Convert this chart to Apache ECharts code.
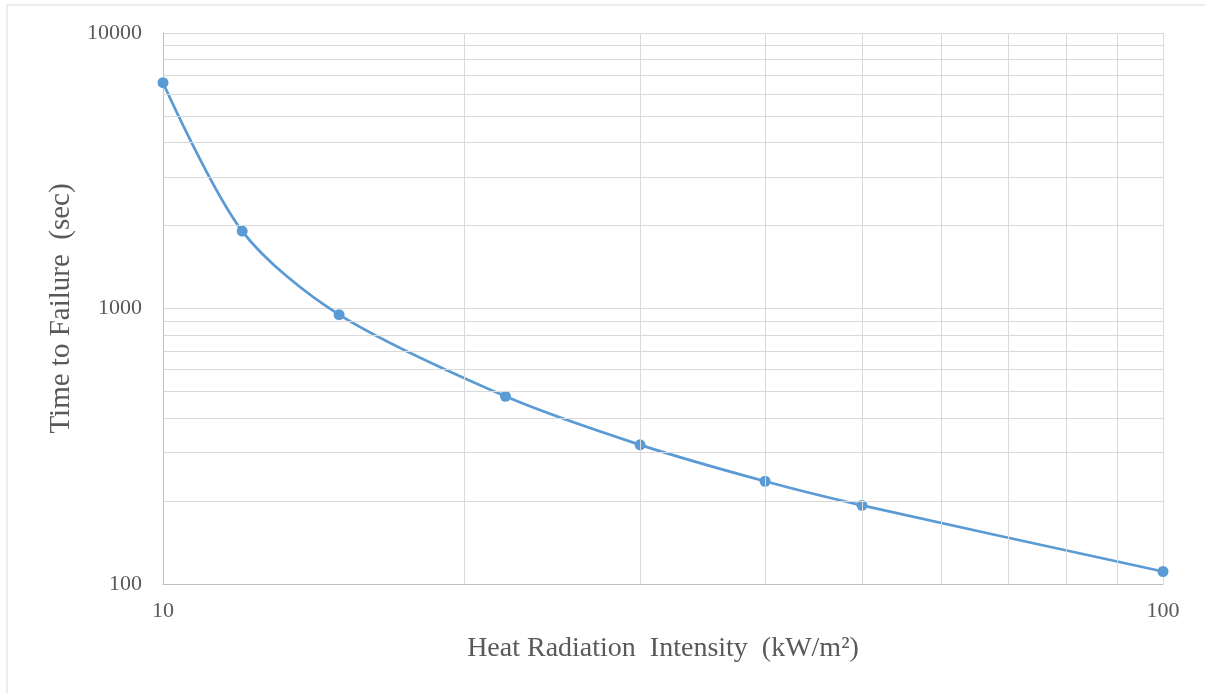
<!DOCTYPE html>
<html>
<head>
<meta charset="utf-8">
<script src="https://cdn.jsdelivr.net/npm/echarts@6/dist/echarts.min.js"></script>
<style>
  html, body { margin: 0; padding: 0; background: #fff; }
  #chart { width: 1205px; height: 693px; }
</style>
</head>
<body>
<div id="chart"></div>
<script>
  // measured points (heat flux kW/m2, time to failure s)
  var intensity = [10, 12, 15, 22, 30, 40, 50, 100];
  var failTime = [6600, 1910, 950, 480, 320, 236, 193, 111];
  // minor grid lines of the log axes
  var xMinorGrid = [20, 30, 40, 50, 60, 70, 80, 90];
  var yMinorGrid = [200, 300, 400, 500, 600, 700, 800, 900,
                    2000, 3000, 4000, 5000, 6000, 7000, 8000, 9000];

  var font = "'Liberation Serif', 'Times New Roman', serif";
  var gridColor = '#d9d9d9';
  var textColor = '#595959';

  var points = intensity.map(function (x, i) { return [x, failTime[i]]; });
  var gridLines = [];
  xMinorGrid.forEach(function (v) { gridLines.push({ xAxis: v }); });
  yMinorGrid.forEach(function (v) { gridLines.push({ yAxis: v }); });

  var myChart = echarts.init(document.getElementById('chart'));
  var option = {
    backgroundColor: '#fff',
    animation: false,
    graphic: [{
      type: 'rect',
      shape: { x: 7, y: 5, width: 1210, height: 700 },
      style: { fill: 'none', stroke: '#d9d9d9', lineWidth: 1 },
      silent: true
    }],
    grid: { left: 163, right: 42, top: 33, bottom: 109 },
    xAxis: {
      type: 'log',
      logBase: 10,
      min: 10,
      max: 100,
      name: 'Heat Radiation  Intensity  (kW/m²)',
      nameLocation: 'middle',
      nameGap: 51,
      nameTextStyle: { fontFamily: font, fontSize: 28, color: textColor },
      axisLine: { lineStyle: { color: '#bfbfbf', width: 1 } },
      axisTick: { show: false },
      axisLabel: {
        fontFamily: font, fontSize: 22, color: textColor, margin: 16,
        formatter: function (v) { return String(v); }
      },
      splitLine: { show: true, lineStyle: { color: gridColor, width: 1 } }
    },
    yAxis: {
      type: 'log',
      logBase: 10,
      min: 100,
      max: 10000,
      name: 'Time to Failure  (sec)',
      nameLocation: 'middle',
      nameGap: 87,
      nameTextStyle: { fontFamily: font, fontSize: 29, color: textColor },
      axisLine: { show: true, lineStyle: { color: '#bfbfbf', width: 1 } },
      axisTick: { show: false },
      axisLabel: {
        fontFamily: font, fontSize: 22, color: textColor, margin: 21,
        formatter: function (v) { return String(v); }
      },
      splitLine: { show: true, lineStyle: { color: gridColor, width: 1 } }
    },
    series: [
      {
        type: 'line',
        data: [],
        z: 1,
        silent: true,
        markLine: {
          silent: true,
          symbol: ['none', 'none'],
          label: { show: false },
          lineStyle: { color: gridColor, width: 1, type: 'solid' },
          data: gridLines
        }
      },
      {
        name: 'Time to Failure',
        type: 'line',
        z: 3,
        data: points,
        smooth: 0.3,
        symbol: 'circle',
        symbolSize: 11,
        color: '#5b9bd5',
        lineStyle: { color: '#5b9bd5', width: 2.75 },
        itemStyle: { color: '#5b9bd5' }
      }
    ]
  };
  myChart.setOption(option);
</script>
</body>
</html>
